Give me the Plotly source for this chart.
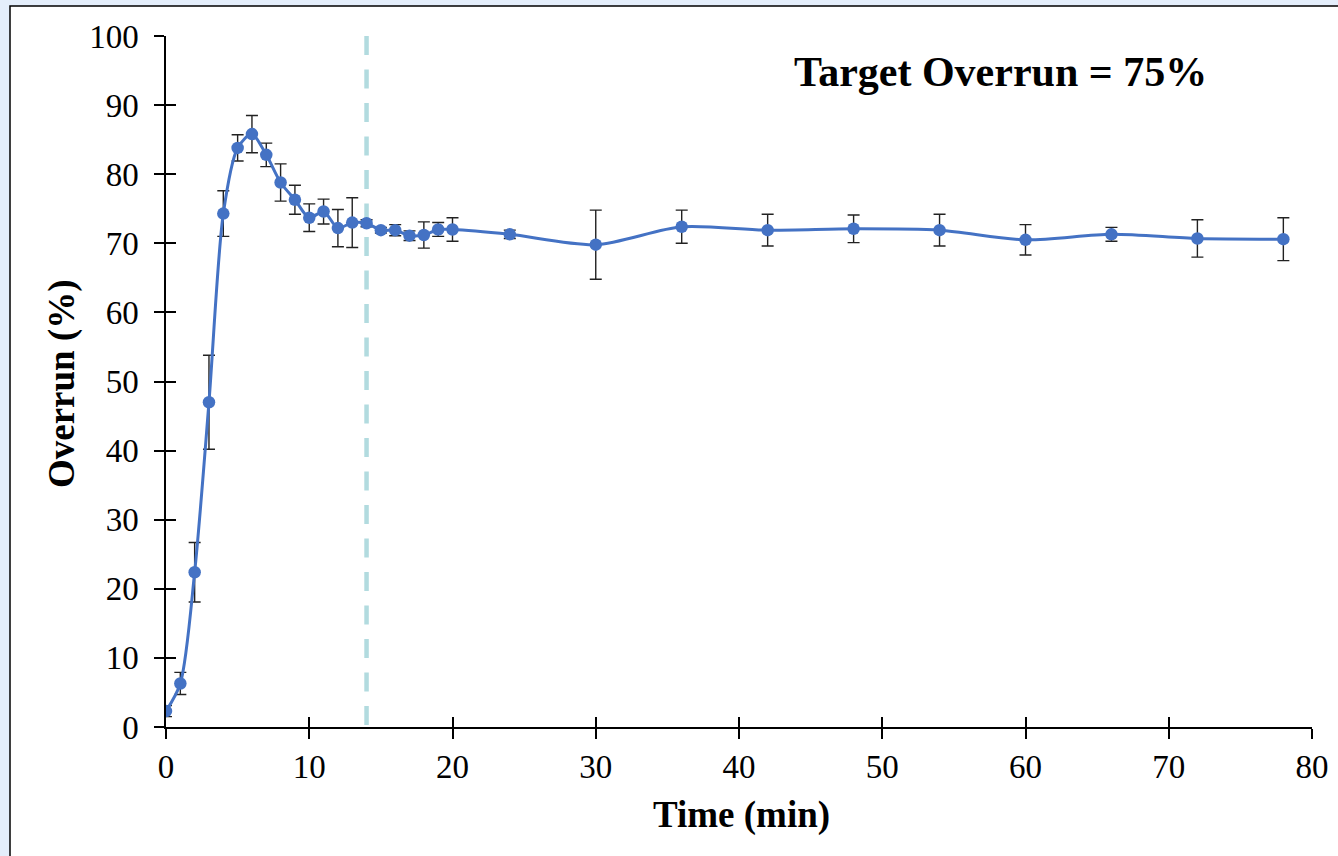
import plotly.graph_objects as go

# Data
time_min = [0, 1, 2, 3, 4, 5, 6, 7, 8, 9, 10, 11, 12, 13, 14, 15, 16, 17, 18, 19, 20,
            24, 30, 36, 42, 48, 54, 60, 66, 72, 78]
overrun = [2.3, 6.3, 22.4, 47.0, 74.3, 83.8, 85.8, 82.8, 78.8, 76.3, 73.7, 74.6, 72.2, 73.0, 72.9,
           71.9, 71.9, 71.1, 71.2, 72.0, 72.0, 71.3, 69.8, 72.4, 71.9, 72.1, 71.9, 70.5, 71.3, 70.7, 70.6]
err = [0.8, 1.6, 4.3, 6.8, 3.3, 1.9, 2.7, 1.7, 2.7, 2.1, 2.0, 1.8, 2.7, 3.6, 0.5,
       0.4, 0.8, 0.7, 1.9, 1.0, 1.7, 0.6, 5.0, 2.4, 2.3, 2.0, 2.3, 2.2, 1.0, 2.7, 3.1]
marker_time = [14, 14]
marker_range = [100, 0]
x_ticks = [0, 10, 20, 30, 40, 50, 60, 70, 80]
y_ticks = [0, 10, 20, 30, 40, 50, 60, 70, 80, 90, 100]
annotation_text = "Target Overrun = 75%"

W, H = 1338, 856
L, R, T, B = 166, 26, 36, 129
pw, ph = W - L - R, H - T - B

def px_x(p):
    return (p - L) / pw

def px_y(p):
    return (H - B - p) / ph

FONT = "Liberation Serif"
BLUE = "#4472C4"

fig = go.Figure()

fig.add_trace(go.Scatter(
    x=marker_time, y=marker_range, mode="lines",
    line=dict(color="#B2DBDF", width=4.5, dash="19px,14.5px"),
    hoverinfo="skip", showlegend=False,
))

fig.add_trace(go.Scatter(
    x=time_min, y=overrun, mode="lines+markers",
    line=dict(color=BLUE, width=3, shape="spline", smoothing=0.8),
    marker=dict(color=BLUE, size=12.5),
    error_y=dict(type="data", array=err, visible=True, color="#222222", thickness=1.4, width=6),
    showlegend=False,
))

axis_common = dict(
    showgrid=False, zeroline=False, showline=True, linecolor="black", linewidth=1.5,
    ticks="outside", ticklen=10, tickwidth=1.5, tickcolor="black",
    tickfont=dict(family=FONT, size=33, color="black"),
)

fig.update_layout(
    width=W, height=H,
    margin=dict(l=L, r=R, t=T, b=B, autoexpand=False),
    paper_bgcolor="#E4EEFB",
    plot_bgcolor="rgba(0,0,0,0)",
    xaxis=dict(range=[0, 80], tickvals=x_ticks, **axis_common),
    yaxis=dict(range=[0, 100], tickvals=y_ticks, ticklabelstandoff=9, **axis_common),
    xaxis2=dict(range=[0, 80], tickvals=x_ticks, overlaying="x", showticklabels=False,
                showgrid=False, zeroline=False, ticks="inside", ticklen=10, tickwidth=1.5,
                tickcolor="black", showline=False),
    yaxis2=dict(range=[0, 100], tickvals=y_ticks, overlaying="y", showticklabels=False,
                showgrid=False, zeroline=False, ticks="inside", ticklen=10, tickwidth=1.5,
                tickcolor="black", showline=False),
    shapes=[dict(type="rect", xref="paper", yref="paper", layer="below",
                 x0=px_x(10), x1=px_x(W + 20), y0=px_y(6), y1=px_y(H + 20),
                 fillcolor="white", line=dict(color="black", width=1.5))],
    annotations=[
        dict(text="<b>Time (min)</b>", xref="paper", yref="paper", x=px_x(741), y=px_y(815),
             xanchor="center", yanchor="middle", showarrow=False,
             font=dict(family=FONT, size=37, color="black")),
        dict(text="<b>Overrun (%)</b>", xref="paper", yref="paper", x=px_x(62), y=px_y(384),
             xanchor="center", yanchor="middle", showarrow=False, textangle=-90,
             font=dict(family=FONT, size=37, color="black")),
        dict(text="<b>" + annotation_text + "</b>", xref="paper", yref="paper", x=px_x(1000), y=px_y(72),
             xanchor="center", yanchor="middle", showarrow=False,
             font=dict(family=FONT, size=42, color="black")),
    ],
)

# invisible trace on the secondary axes so the inside ticks render
fig.add_trace(go.Scatter(x=[0], y=[0], xaxis="x2", yaxis="y2", mode="markers",
                         marker=dict(opacity=0), hoverinfo="skip", showlegend=False))

fig.write_html("out.html")
